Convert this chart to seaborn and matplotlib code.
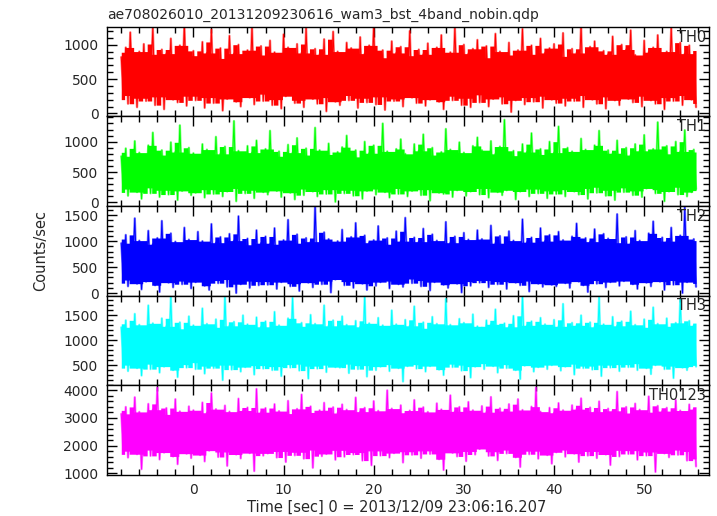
import numpy as np
import pandas as pd
import matplotlib
matplotlib.use("Agg")
import matplotlib.pyplot as plt
import seaborn as sns
from matplotlib.ticker import MultipleLocator

# ---------------- data (local peaks / troughs) ----------------
title = "ae708026010_20131209230616_wam3_bst_4band_nobin.qdp"
band_names = ["TH0", "TH1", "TH2", "TH3", "TH0123"]
band_colors = ["#ff0000", "#00ff00", "#0000ff", "#00ffff", "#ff00ff"]
t_start = -8.0      # sec, first bin
bin_width = 0.25    # sec between successive peak / trough samples

th0_peaks = [820, 960, 1180, 740, 900, 1010, 860, 1250, 780, 930, 870, 1090, 720, 990, 1300, 840,
             910, 760, 1040, 880, 1220, 800, 950, 690, 1130, 870, 1000, 780, 920, 1270, 850, 980,
             740, 1060, 890, 830, 1150, 960, 710, 1010, 880, 1240, 790, 940, 860, 1080, 770, 1190,
             900, 820, 1030, 950, 730, 1110, 870, 990, 1280, 810, 920, 760, 1050, 880, 970, 840,
             1200, 780, 930, 860, 1020, 700, 960, 1140, 830, 890, 1260, 790, 1000, 870, 940, 1070,
             810, 980, 740, 1160, 900, 850, 1030, 770, 920, 1230, 860, 990, 720, 1090, 880, 950,
             1010, 830, 1170, 760, 940, 880, 1290, 800, 970, 1050, 740, 910, 860, 1120, 790, 1000,
             930, 1210, 850, 780, 1060, 890, 960, 1140, 820, 900, 1250, 770, 1030, 870, 990, 840]
th0_troughs = [260, 140, 310, 90, 220, 180, 350, 120, 240, 60, 290, 200, 160, 330, 110, 250,
               190, 300, 80, 230, 150, 270, 40, 210, 320, 170, 100, 260, 230, 130, 360, 180,
               280, 120, 200, 70, 250, 310, 150, 190, 90, 270, 210, 140, 340, 30, 230, 170,
               120, 260, 190, 300, 80, 220, 160, 280, 130, 240, 50, 310, 180, 210, 100, 270,
               230, 150, 290, 110, 200, 340, 170, 60, 250, 190, 280, 120, 220, 90, 300, 160,
               270, 100, 210, 320, 140, 240, 20, 190, 280, 130, 230, 170, 310, 80, 250, 200,
               150, 290, 110, 220, 180, 350, 90, 260, 200, 140, 300, 70, 240, 190, 120, 280,
               210, 160, 330, 100, 250, 190, 140, 290, 60, 230, 180, 310, 120, 260, 200, 90]

th1_peaks = [760, 890, 680, 1010, 820, 720, 940, 1150, 780, 860, 700, 990, 830, 1270, 750, 900,
             810, 690, 960, 870, 740, 1080, 800, 920, 710, 1340, 850, 770, 930, 820, 1020, 730,
             880, 1180, 760, 840, 700, 950, 820, 1060, 780, 890, 720, 1230, 860, 790, 970, 740,
             830, 910, 1100, 750, 860, 690, 1000, 810, 940, 770, 1300, 840, 720, 880, 1040, 800,
             730, 960, 850, 1120, 780, 900, 710, 830, 1210, 870, 750, 990, 820, 680, 930, 1070,
             860, 740, 1010, 800, 920, 1360, 770, 850, 700, 960, 830, 1140, 790, 880, 740, 1000,
             820, 1250, 760, 900, 840, 720, 1050, 870, 790, 940, 1180, 750, 860, 810, 1020, 730,
             900, 780, 960, 850, 1110, 720, 880, 1320, 800, 930, 760, 1000, 840, 1190, 790, 870]
th1_troughs = [220, 110, 280, 170, 60, 240, 150, 300, 90, 200, 130, 260, 40, 190, 230, 120,
               160, 250, 80, 210, 140, 310, 100, 180, 270, 20, 230, 150, 200, 70, 260, 170,
               130, 240, 190, 90, 280, 160, 50, 220, 120, 300, 180, 100, 250, 140, 210, 10,
               270, 150, 200, 110, 240, 60, 190, 290, 130, 220, 170, 80, 260, 140, 230, 100,
               190, 280, 120, 210, 30, 250, 160, 140, 300, 90, 200, 240, 110, 180, 270, 130,
               230, 80, 260, 170, 120, 200, 290, 50, 180, 240, 100, 220, 150, 310, 70, 190,
               140, 210, 100, 270, 180, 130, 230, 60, 250, 160, 290, 110, 200, 40, 240, 170,
               260, 120, 190, 90, 230, 280, 150, 210, 20, 180, 250, 130, 300, 100, 170, 220]

th2_peaks = [960, 1120, 880, 1440, 1010, 900, 1200, 940, 1060, 1390, 870, 1150, 990, 920, 1260, 1030,
             910, 1180, 1000, 860, 1330, 970, 1080, 890, 1140, 1010, 1480, 930, 1050, 880, 1210, 960,
             1090, 940, 1250, 870, 1020, 1410, 960, 1130, 900, 1060, 990, 1680, 910, 1170, 1040, 880,
             1000, 1220, 930, 1080, 1350, 890, 1110, 970, 1020, 1290, 940, 1060, 870, 1190, 1000, 1450,
             920, 1070, 990, 1240, 880, 1130, 1010, 940, 1370, 970, 1090, 900, 1160, 1030, 960, 1210,
             1040, 890, 1300, 960, 1100, 920, 1190, 1010, 870, 1420, 980, 1070, 930, 1250, 1000, 1120,
             950, 1180, 1020, 880, 1090, 1340, 940, 1060, 990, 1230, 900, 1140, 1050, 970, 1520, 930,
             1080, 960, 1200, 1010, 890, 1150, 1380, 940, 1070, 1000, 1260, 920, 1110, 1650, 980, 1040]
th2_troughs = [250, 130, 300, 180, 70, 220, 290, 150, 20, 260, 200, 110, 280, 170, 230, 90,
               210, 280, 140, 60, 240, 190, 310, 120, 260, 0, 170, 230, 100, 270, 150, 220,
               160, 250, 80, 210, 290, 130, 180, 40, 240, 200, 110, 270, 170, 230, 10, 260,
               280, 150, 220, 100, 250, 180, 60, 290, 140, 210, 260, 90, 230, 170, 120, 300,
               190, 270, 130, 240, 50, 210, 290, 160, 100, 250, 180, 10, 220, 140, 270, 200,
               240, 110, 280, 170, 220, 80, 260, 200, 150, 290, 30, 230, 180, 120, 250, 160,
               130, 260, 190, 100, 270, 220, 150, 20, 240, 180, 290, 110, 210, 260, 140, 230,
               270, 170, 80, 250, 200, 130, 290, 220, 60, 240, 160, 280, 0, 210, 250, 120]

th3_peaks = [1260, 1400, 1170, 1530, 1310, 1220, 1700, 1340, 1190, 1440, 1280, 1880, 1230, 1360, 1150, 1480,
             1300, 1210, 1640, 1330, 1260, 1420, 1180, 1900, 1290, 1370, 1240, 1500, 1320, 1160, 1460, 1270,
             1380, 1230, 1570, 1300, 1190, 1440, 1850, 1280, 1350, 1210, 1510, 1330, 1250, 1700, 1290, 1400,
             1220, 1480, 1310, 1170, 1390, 1270, 1890, 1340, 1230, 1450, 1300, 1190, 1600, 1320, 1260, 1410,
             1290, 1680, 1240, 1360, 1180, 1470, 1330, 1260, 1830, 1310, 1220, 1430, 1350, 1170, 1520, 1280,
             1250, 1400, 1320, 1620, 1210, 1340, 1270, 1490, 1230, 1900, 1300, 1380, 1180, 1450, 1320, 1240,
             1410, 1280, 1730, 1230, 1350, 1300, 1500, 1190, 1360, 1270, 1860, 1320, 1240, 1470, 1290, 1380,
             1220, 1580, 1310, 1260, 1420, 1170, 1660, 1330, 1280, 1440, 1210, 1350, 1820, 1270, 1390, 1300]
th3_troughs = [500, 380, 560, 440, 290, 520, 420, 580, 350, 470, 540, 400, 260, 510, 450, 560,
               420, 550, 330, 480, 440, 570, 200, 500, 410, 530, 370, 460, 550, 310, 490, 430,
               540, 400, 470, 280, 510, 450, 560, 390, 520, 230, 480, 430, 550, 360, 500, 460,
               450, 520, 340, 560, 420, 490, 270, 530, 400, 470, 550, 380, 510, 440, 170, 480,
               510, 430, 550, 370, 480, 540, 410, 300, 520, 460, 560, 390, 500, 250, 470, 530,
               420, 560, 480, 350, 510, 440, 550, 400, 220, 490, 530, 370, 460, 540, 420, 500,
               550, 390, 470, 520, 310, 560, 440, 480, 410, 540, 280, 500, 450, 560, 380, 510,
               460, 530, 400, 550, 440, 320, 500, 560, 420, 480, 240, 540, 450, 400, 520, 470]

th0123_peaks = [3150, 3400, 2980, 3750, 3220, 3070, 3510, 3300, 4100, 3130, 3360, 3010, 3680, 3240, 3100, 3420,
                3280, 3050, 3560, 3190, 3900, 3320, 3110, 3450, 3230, 3000, 3700, 3270, 3380, 3140, 4050, 3210,
                3360, 3090, 3500, 3250, 3160, 3620, 3040, 3330, 3850, 3200, 3420, 3110, 3280, 3550, 3070, 3390,
                3180, 3490, 3300, 3030, 3740, 3230, 3370, 3120, 3610, 3260, 3080, 4000, 3340, 3190, 3460, 3150,
                3270, 3650, 3100, 3390, 3220, 3060, 3530, 3310, 3170, 3820, 3240, 3400, 3090, 3580, 3280, 3140,
                3430, 3210, 3760, 3120, 3350, 3250, 3500, 3050, 3680, 3290, 3160, 3410, 4100, 3230, 3100, 3370,
                3190, 3540, 3280, 3080, 3460, 3320, 3710, 3150, 3380, 3230, 3600, 3060, 3340, 3260, 3950, 3180,
                3400, 3130, 3520, 3300, 3210, 3780, 3090, 3440, 3250, 3370, 3160, 3650, 3270, 3110, 3490, 3320]
th0123_troughs = [1800, 1570, 1930, 1690, 1150, 1840, 1630, 1900, 1500, 1750, 1950, 1610, 1330, 1870, 1710, 1550,
                  1890, 1660, 1430, 1820, 1940, 1590, 1770, 1270, 1860, 1680, 1540, 1920, 1730, 1080, 1810, 1640,
                  1720, 1910, 1570, 1790, 1410, 1880, 1650, 1760, 1530, 1930, 1200, 1840, 1620, 1700, 1900, 1490,
                  1830, 1600, 1950, 1680, 1750, 1460, 1870, 1290, 1810, 1640, 1920, 1570, 1730, 1850, 1390, 1780,
                  1670, 1890, 1550, 1810, 1700, 1940, 1510, 1120, 1860, 1740, 1610, 1910, 1440, 1790, 1680, 1880,
                  1920, 1630, 1780, 1470, 1900, 1720, 1840, 1580, 1230, 1870, 1690, 1800, 1530, 1930, 1660, 1350,
                  1760, 1910, 1600, 1840, 1710, 1410, 1880, 1640, 1790, 1550, 1940, 1680, 1300, 1830, 1610, 1890,
                  1700, 1820, 1490, 1860, 1640, 1770, 1050, 1910, 1720, 1580, 1840, 1670, 1900, 1460, 1790, 1250]

band_peaks = [th0_peaks, th1_peaks, th2_peaks, th3_peaks, th0123_peaks]
band_troughs = [th0_troughs, th1_troughs, th2_troughs, th3_troughs, th0123_troughs]

# ---------------- styling / layout ----------------
y_limits = [(-45, 1260), (-60, 1415), (-52, 1675), (94, 1894), (940, 4180)]
y_major = [500, 500, 500, 500, 1000]

sns.set_theme(style="white")
plt.rcParams["font.family"] = ["DejaVu Sans"]

fig, axes = plt.subplots(5, 1, figsize=(7.17, 5.16), dpi=100, sharex=True)
fig.subplots_adjust(left=0.149, right=0.989, top=0.948, bottom=0.0795, hspace=0)

for ax, name, color, pk, tr, ylim, major in zip(axes, band_names, band_colors,
                                                 band_peaks, band_troughs, y_limits, y_major):
    pk = np.asarray(pk, float)
    tr = np.asarray(tr, float)
    y = np.empty(2 * len(pk))
    y[0::2] = pk
    y[1::2] = tr
    t = t_start + bin_width * np.arange(len(y))
    # light spiky fringe: the full peak/trough trace
    sns.lineplot(x=t, y=y, ax=ax, color=color, lw=1.7, alpha=0.5,
                 estimator=None, sort=False)
    # dense core of the curve: running median of local peaks / troughs
    hi_core = pd.Series(pk).rolling(3, center=True, min_periods=1).median().to_numpy()
    lo_core = pd.Series(tr).rolling(3, center=True, min_periods=1).median().to_numpy()
    ax.fill_between(t, np.repeat(lo_core, 2), np.repeat(hi_core, 2), step="mid",
                    color=color, lw=0)
    # spikes in full colour
    sns.lineplot(x=t, y=y, ax=ax, color=color, lw=0.7, alpha=1.0,
                 estimator=None, sort=False)
    ax.set_xlim(-9.6, 57.2)
    ax.set_ylim(*ylim)
    ax.yaxis.set_major_locator(MultipleLocator(major))
    ax.yaxis.set_minor_locator(MultipleLocator(major / 5))
    ax.xaxis.set_major_locator(MultipleLocator(10))
    ax.xaxis.set_minor_locator(MultipleLocator(2))
    ax.tick_params(which="both", direction="in", top=True, right=True, left=True, bottom=True,
                   color="black", width=1)
    ax.tick_params(which="major", length=7, labelsize=10, pad=6)
    ax.tick_params(which="minor", length=4)
    for sp in ax.spines.values():
        sp.set_color("black")
        sp.set_linewidth(1.0)
        sp.set_zorder(5)
    ax.set_xlabel("")
    ax.set_ylabel("")
    ax.text(0.995, 0.97, name, transform=ax.transAxes, ha="right", va="top", fontsize=10.5,
            zorder=6)

fig.text(107 / 717, 1 - 19 / 516, title, ha="left", va="baseline", fontsize=10)
fig.text(0.056, 0.515, "Counts/sec", rotation=90, ha="center", va="center", fontsize=10.5)
fig.text(397 / 717, 1 - 507 / 516, "Time [sec] 0 = 2013/12/09 23:06:16.207",
         ha="center", va="center", fontsize=10.5)

fig.savefig("out.png", dpi=100)
